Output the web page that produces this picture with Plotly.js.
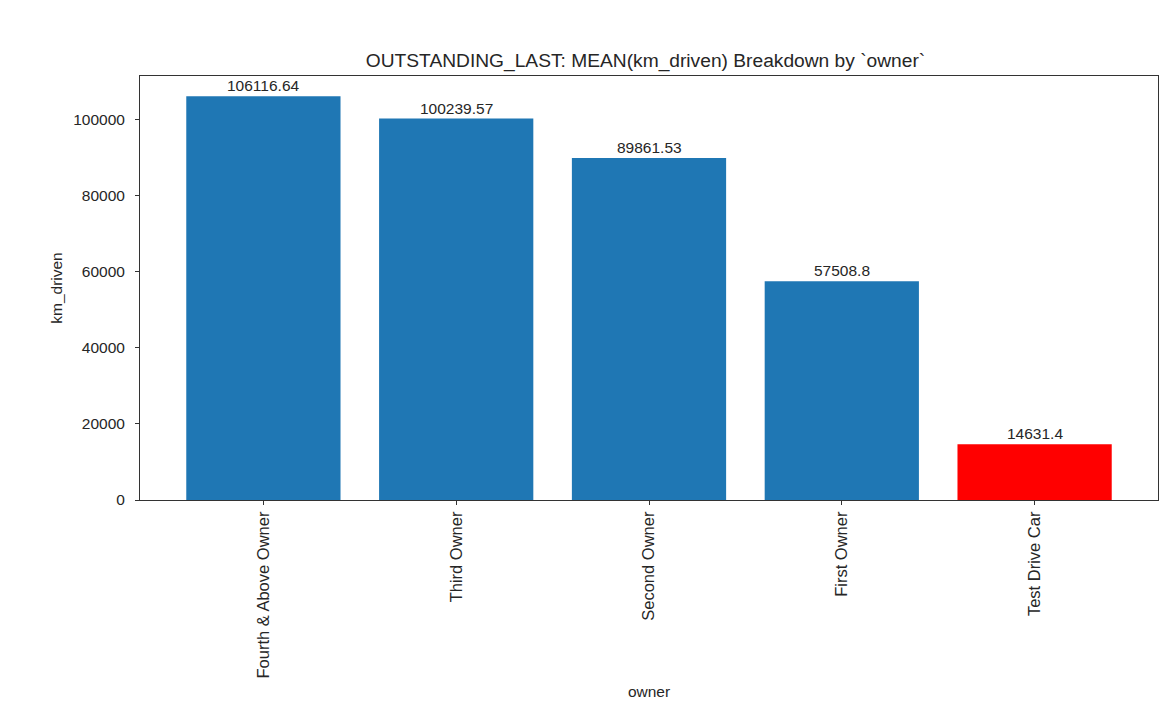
<!DOCTYPE html>
<html>
<head>
<meta charset="utf-8">
<script src="https://cdn.plot.ly/plotly-3.0.1.min.js"></script>
<style>html,body{margin:0;padding:0;background:#fff;}#chart{width:1175px;height:720px;}</style>
</head>
<body>
<div id="chart"></div>
<script>
const categories = ["Fourth & Above Owner", "Third Owner", "Second Owner", "First Owner", "Test Drive Car"];
const meanKmDriven = [106116.64, 100239.57, 89861.53, 57508.8, 14631.4];
const barColors = ["#1f77b4", "#1f77b4", "#1f77b4", "#1f77b4", "#ff0000"];
const yTicks = [0, 20000, 40000, 60000, 80000, 100000];

const FONT = "Liberation Sans, Arial, sans-serif";
const TXT = "#262626";
const yMax = Math.max(...meanKmDriven) * 1.05;

const trace = {
  type: "bar",
  x: categories,
  y: meanKmDriven,
  width: 0.8,
  marker: {color: barColors, line: {width: 0}},
  hoverinfo: "x+y"
};

const valueLabels = categories.map((c, i) => ({
  x: c, y: meanKmDriven[i], xref: "x", yref: "y",
  text: String(meanKmDriven[i]),
  showarrow: false, yanchor: "bottom", xanchor: "center",
  borderpad: 0, yshift: 1,
  font: {family: FONT, size: 15.5, color: TXT}
}));

const layout = {
  width: 1175,
  height: 720,
  margin: {l: 140, r: 17, t: 76, b: 220},
  paper_bgcolor: "#fff",
  plot_bgcolor: "#fff",
  font: {family: FONT, size: 15.5, color: TXT},
  showlegend: false,
  title: {
    text: "OUTSTANDING_LAST: MEAN(km_driven) Breakdown by `owner`",
    font: {family: FONT, size: 19.2, color: TXT},
    x: 0.5494, xanchor: "center", y: 0.9167, yanchor: "middle"
  },
  xaxis: {
    type: "category",
    range: [-0.64, 4.64],
    tickangle: -90,
    ticks: "outside", ticklen: 4, tickcolor: "#333",
    showline: true, linecolor: "#333", linewidth: 1, mirror: true,
    showgrid: false, zeroline: false,
    tickfont: {family: FONT, size: 16.5, color: TXT},
    title: {text: "owner", font: {family: FONT, size: 15.5, color: TXT}, standoff: 8}
  },
  yaxis: {
    range: [0, yMax],
    tickvals: yTicks,
    ticktext: yTicks.map(String),
    ticks: "outside", ticklen: 4, tickcolor: "#333",
    ticklabelstandoff: 7,
    showline: true, linecolor: "#333", linewidth: 1, mirror: true,
    showgrid: false, zeroline: false,
    tickfont: {family: FONT, size: 15.5, color: TXT},
    title: {text: "km_driven", font: {family: FONT, size: 15.5, color: TXT}, standoff: 6}
  },
  annotations: valueLabels,
  bargap: 0.2
};

Plotly.newPlot("chart", [trace], layout, {displayModeBar: false, staticPlot: true});
</script>
</body>
</html>
